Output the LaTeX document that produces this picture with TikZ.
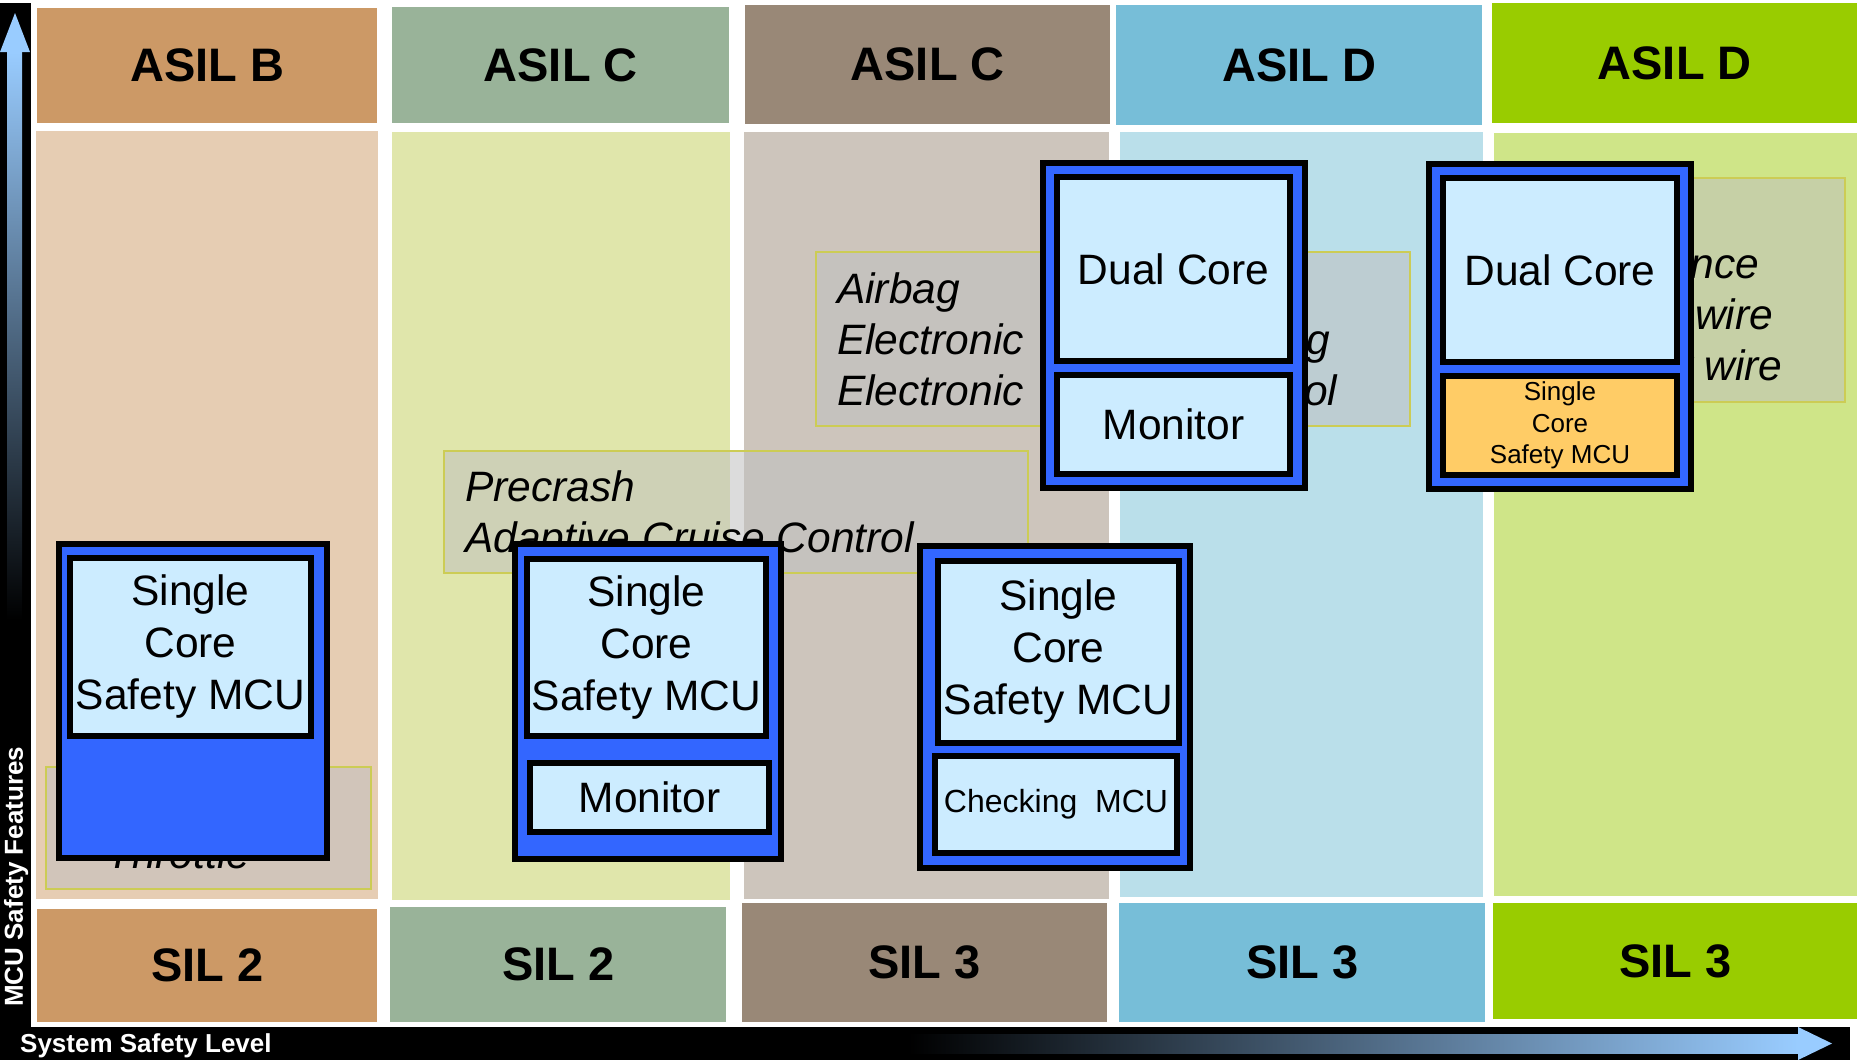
\documentclass[tikz,border=0pt]{standalone}
\usepackage{fontspec}
\setmainfont{Liberation Sans}
\usepackage{tikz}
\definecolor{headA}{HTML}{CC9966}
\definecolor{bandA}{HTML}{E6CDB3}
\definecolor{headB}{HTML}{99B399}
\definecolor{bandB}{HTML}{E0E6AB}
\definecolor{headC}{HTML}{998877}
\definecolor{bandC}{HTML}{CDC5BC}
\definecolor{headD}{HTML}{77BED8}
\definecolor{bandD}{HTML}{BADFEA}
\definecolor{headE}{HTML}{99CC00}
\definecolor{bandE}{HTML}{CFE588}
\definecolor{mcublue}{HTML}{3366FF}
\definecolor{mcucell}{HTML}{CCECFF}
\definecolor{mcuorange}{HTML}{FFCC66}
\definecolor{featuregray}{HTML}{C0C0C0}
\definecolor{featureline}{HTML}{CCCC55}
\definecolor{axisblue}{HTML}{99CCFF}
\tikzset{
  safety-head/.style={anchor=north west, inner sep=0pt, font=\fontsize{47}{56}\selectfont\bfseries},
  safety-band/.style={anchor=north west, inner sep=0pt},
  feature-box/.style={anchor=north west, inner sep=0pt, draw=featureline, line width=2pt,
    fill=featuregray, fill opacity=0.55},
  feature-text/.style={anchor=base west, inner sep=0pt, align=left,
    font=\fontsize{42.5}{51}\selectfont\itshape},
  mcu-frame/.style={anchor=north west, inner sep=0pt, draw=black, fill=mcublue, line width=6pt},
  mcu-part/.style={anchor=north west, inner sep=0pt, draw=black, fill=mcucell, line width=6pt,
    align=center, font=\fontsize{42.5}{52}\selectfont},
  axis-label/.style={text=white, inner sep=0pt, font=\fontsize{26}{30}\selectfont\bfseries}
}

\begin{document}
\begin{tikzpicture}[x=1pt, y=-1pt]
  \useasboundingbox (0,0) rectangle (1857,1060);
  \foreach \name/\x/\y/\w/\h/\col/\txt in {asil1/37/8/340/115/headA/ASIL B, asil2/392/7/337/116/headB/ASIL C, asil3/745/5/365/119/headC/ASIL C, asil4/1116/5/366/120/headD/ASIL D, asil5/1492/3/365/120/headE/ASIL D} {
    \node[safety-head, fill=\col, minimum width=\w pt, minimum height=\h pt] (\name) at (\x,\y) {\txt};
  }
  \foreach \name/\x/\y/\w/\h/\col in {band1/36/131/342/768/bandA, band2/392/132/338/768/bandB, band3/744/132/365/767/bandC, band4/1120/132/363/765/bandD, band5/1494/133/363/763/bandE} {
    \node[safety-band, fill=\col, minimum width=\w pt, minimum height=\h pt] (\name) at (\x,\y) {};
  }
  \foreach \name/\x/\y/\w/\h/\col/\txt in {sil1/37/909/340/113/headA/SIL 2, sil2/390/907/336/115/headB/SIL 2, sil3/742/903/365/119/headC/SIL 3, sil4/1119/903/366/119/headD/SIL 3, sil5/1493/903/364/116/headE/SIL 3} {
    \node[safety-head, fill=\col, minimum width=\w pt, minimum height=\h pt] (\name) at (\x,\y) {\txt};
  }

  \node[feature-box, minimum width=325pt, minimum height=122pt] (throttle) at (45,766) {};
  \node[feature-box, minimum width=584pt, minimum height=122pt] (precrash) at (443,450) {};
  \node[feature-box, minimum width=594pt, minimum height=174pt] (airbag) at (815,251) {};
  \node[feature-box, minimum width=333pt, minimum height=224pt] (redundance) at (1511,177) {};
  \node[feature-text] (throttle-txt) at (106,868) {Throttle};
  \node[feature-text] (precrash-txt) at (465,552) {Precrash\\Adaptive Cruise Control};
  \node[feature-text] (airbag-txt) at (837,405) {Airbag\\Electronic~\hspace{4pt}Power Steering\\Electronic~\hspace{4pt}Stability Control};
  \node[feature-text] (redundance-txt) at (1525,380) {\hspace*{-7pt}Redundance\\Steer by wire\\Brake by wire};

  \node[mcu-frame, minimum width=268pt, minimum height=314pt] (mcua) at (56,541) {};
  \node[mcu-part, minimum width=241pt, minimum height=178pt] (mcua-core) at (67,555) {Single\\Core\\Safety MCU};

  \node[mcu-frame, minimum width=266pt, minimum height=315pt] (mcub) at (512,541) {};
  \node[mcu-part, minimum width=239pt, minimum height=177pt] (mcub-core) at (524,556) {Single\\Core\\Safety MCU};
  \node[mcu-part, minimum width=239pt, minimum height=69pt] (mcub-mon) at (527,760) {Monitor};

  \node[mcu-frame, minimum width=270pt, minimum height=322pt] (mcuc) at (917,543) {};
  \node[mcu-part, minimum width=241pt, minimum height=182pt] (mcuc-core) at (935,558) {Single\\Core\\Safety MCU};
  \node[mcu-part, minimum width=242pt, minimum height=97pt, font=\fontsize{32}{38}\selectfont] (mcuc-check) at (932,753) {Checking~~MCU};

  \node[mcu-frame, minimum width=262pt, minimum height=325pt] (mcud) at (1040,160) {};
  \node[mcu-part, minimum width=233pt, minimum height=184pt] (mcud-core) at (1054,174) {Dual Core};
  \node[mcu-part, minimum width=233pt, minimum height=99pt] (mcud-mon) at (1054,372) {Monitor};

  \node[mcu-frame, minimum width=262pt, minimum height=325pt] (mcue) at (1426,161) {};
  \node[mcu-part, minimum width=234pt, minimum height=184pt] (mcue-core) at (1440,175) {Dual Core};
  \node[mcu-part, minimum width=234pt, minimum height=99pt, fill=mcuorange, font=\fontsize{26}{31.5}\selectfont] (mcue-safe) at (1440,373) {Single\\Core\\Safety MCU};

  \fill[black] (0,3) rectangle (31,1060);
  \fill[black] (0,1027) rectangle (1850,1060);
  \shade[top color=axisblue, bottom color=black] (7,52) rectangle (22,620);
  \fill[axisblue] (0,52) -- (15,13) -- (30,52) -- cycle;
  \shade[left color=black, right color=axisblue] (908,1034) rectangle (1798,1053);
  \fill[axisblue] (1798,1027) -- (1832,1043.5) -- (1798,1060) -- cycle;
  \node[axis-label, anchor=base west] (level-label) at (20,1052) {System Safety Level};
  \node[axis-label, anchor=base west, rotate=90] (feature-label) at (23,1007) {MCU Safety Features};
\end{tikzpicture}
\end{document}
